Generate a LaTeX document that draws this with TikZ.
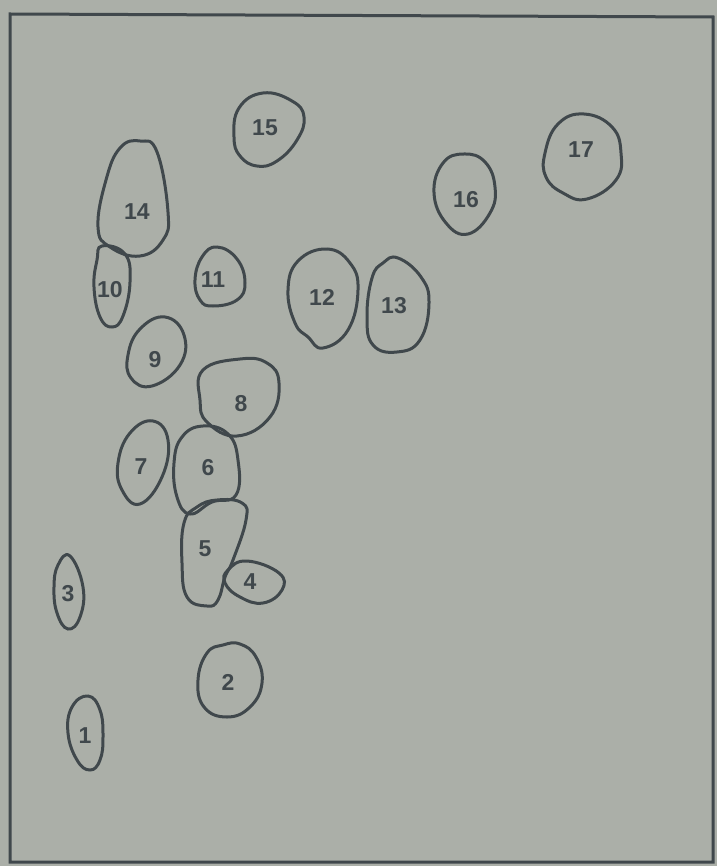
\documentclass[tikz,border=0pt]{standalone}
\usepackage{fontspec}
\setmainfont{Liberation Sans}
\usepackage{xcolor}
\usepackage{tikz}
\usetikzlibrary{backgrounds}
\definecolor{paper}{RGB}{171,175,168}
\definecolor{ink}{RGB}{64,72,76}

\begin{document}
\begin{tikzpicture}[
        x=0.5pt, y=-0.5pt,
        blob/.style={draw=ink, line width=1.5pt, smooth cycle, tension=0.75},
        lbl/.style={text=ink, font=\bfseries\fontsize{11.5}{13}\selectfont, inner sep=0pt},
        frame/.style={draw=ink, line width=1.5pt}
    ]
    \useasboundingbox[fill=paper] (0,0) rectangle (717,866);
    \draw[frame] (10,14) -- (713,17) -- (713,862) -- (10,862) -- cycle;

    % top row
    \draw[blob] plot coordinates {(263,93) (292,101) (304,117) (297,140) (277,161) (257,166) (240,156) (234,137) (239,108)};
    \node[lbl] (s15) at (265,128) {15};
    \draw[blob] plot coordinates {(464,154) (485,162) (495,187) (490,213) (468,234) (446,223) (434,193) (443,163)};
    \node[lbl] (s16) at (466,200) {16};
    \draw[blob] plot coordinates {(584,114) (612,127) (621,153) (616,180) (587,199) (563,193) (546,177) (545,153) (558,124)};
    \node[lbl] (s17) at (581,150) {17};

    % left cluster
    \draw[blob] plot coordinates {(140,141) (157,152) (168,212) (163,240) (140,256) (110,247) (98,227) (106,180) (120,148)};
    \node[lbl] (s14) at (137,212) {14};
    \draw[blob] plot coordinates {(102,246) (125,254) (130,282) (123,316) (112,327) (100,317) (94,287) (97,260)};
    \node[lbl] (s10) at (110,290) {10};
    \draw[blob] plot coordinates {(217,247) (237,259) (245,283) (237,300) (213,306) (200,300) (195,280) (202,257)};
    \node[lbl] (s11) at (213,280) {11};
    \draw[blob] plot coordinates {(327,249) (350,263) (358,290) (348,330) (323,348) (308,337) (295,323) (288,290) (298,261)};
    \node[lbl] (s12) at (322,297) {12};
    \draw[blob] plot coordinates {(398,258) (421,277) (429,303) (420,340) (397,352) (373,345) (367,317) (372,278) (383,263)};
    \node[lbl] (s13) at (394,306) {13};
    \draw[blob] plot coordinates {(165,317) (184,335) (180,365) (152,386) (131,378) (128,355) (140,329)};
    \node[lbl] (s9) at (155,360) {9};
    \draw[blob] plot coordinates {(203,370) (240,359) (267,363) (279,383) (270,417) (237,436) (207,422) (200,400)};
    \node[lbl] (s8) at (241,404) {8};
    \draw[blob] plot coordinates {(153,421) (168,440) (162,477) (140,504) (122,490) (118,463) (130,433)};
    \node[lbl] (s7) at (141,467) {7};
    \draw[blob] plot coordinates {(203,426) (228,434) (238,460) (236,495) (212,502) (190,514) (177,497) (174,463) (182,437)};
    \node[lbl] (s6) at (208,468) {6};
    \draw[blob] plot coordinates {(217,500) (242,503) (246,520) (233,560) (225,577) (218,600) (207,606) (187,597) (182,563) (184,523) (197,507)};
    \node[lbl] (s5) at (205,549) {5};
    \draw[blob] plot coordinates {(247,561) (279,573) (282,590) (263,603) (240,597) (225,583) (228,570)};
    \node[lbl] (s4) at (250,582) {4};
    \draw[blob] plot coordinates {(70,556) (83,587) (80,617) (68,629) (57,613) (54,587) (58,565)};
    \node[lbl] (s3) at (68,594) {3};
    \draw[blob] plot coordinates {(240,644) (256,657) (262,683) (250,707) (227,717) (204,707) (198,680) (207,653) (223,645)};
    \node[lbl] (s2) at (228,682) {2};
    \draw[blob] plot coordinates {(88,696) (100,710) (103,737) (100,760) (90,770) (77,760) (68,733) (72,707)};
    \node[lbl] (s1) at (85,736) {1};
\end{tikzpicture}
\end{document}
